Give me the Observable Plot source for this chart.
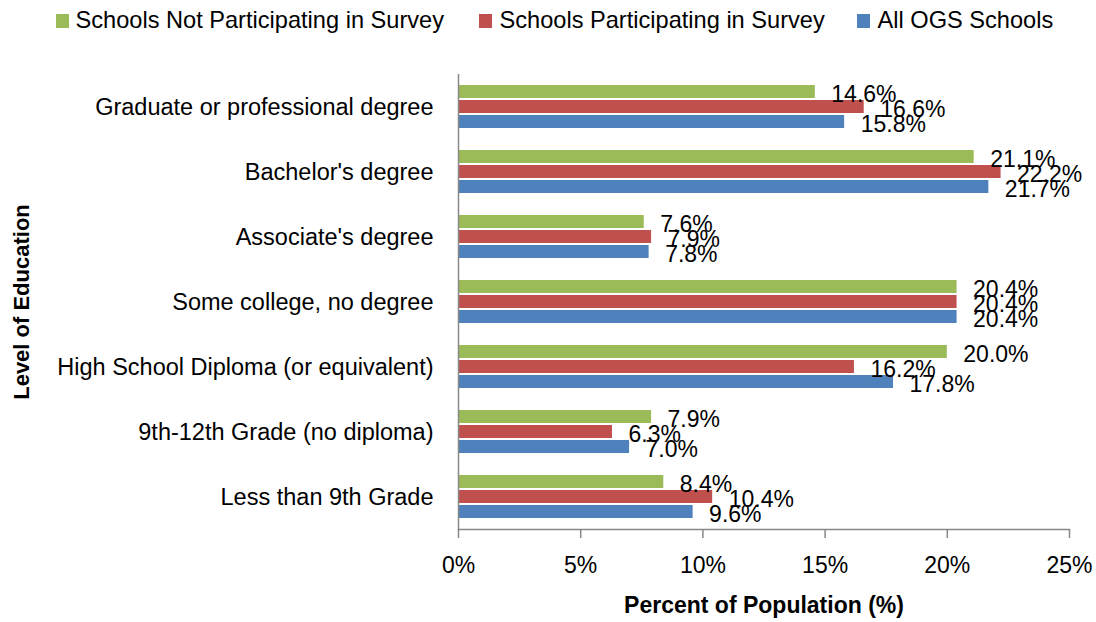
<!DOCTYPE html>
<html><head><meta charset="utf-8">
<script src="https://cdn.jsdelivr.net/npm/d3@7"></script>
<script src="https://cdn.jsdelivr.net/npm/@observablehq/plot@0.6"></script>
<style>
body{margin:0;background:#fff;font-family:"Liberation Sans",Arial,sans-serif;}
#legend{position:relative;height:43px;width:1096px;}
.sw{position:absolute;top:14px;width:13px;height:14px;}
.lt{position:absolute;top:9px;font-size:23.6px;line-height:1;color:#000;white-space:nowrap;}
</style></head><body>
<div id="legend"></div><div id="chart"></div>
<script>
const categories = ["Graduate or professional degree","Bachelor's degree","Associate's degree","Some college, no degree","High School Diploma (or equivalent)","9th-12th Grade (no diploma)","Less than 9th Grade"];
const seriesNames = ["Schools Not Participating in Survey","Schools Participating in Survey","All OGS Schools"];
const seriesColors = ["#9BBB59","#C0504D","#4F81BD"];
const notParticipating = [14.6,21.1,7.6,20.4,20.0,7.9,8.4];
const participating = [16.6,22.2,7.9,20.4,16.2,6.3,10.4];
const allSchools = [15.8,21.7,7.8,20.4,17.8,7.0,9.6];
const xTicks = [0,5,10,15,20,25];
const xTitle = "Percent of Population (%)";
const yTitle = "Level of Education";

// legend
const swLeft = [56, 479, 857], txLeft = [75.5, 499.5, 877.5];
const leg = document.getElementById("legend");
seriesNames.forEach((s, i) => {
  const sw = document.createElement("div");
  sw.className = "sw"; sw.style.left = swLeft[i] + "px"; sw.style.background = seriesColors[i];
  const t = document.createElement("div");
  t.className = "lt"; t.style.left = txLeft[i] + "px"; t.textContent = s;
  leg.appendChild(sw); leg.appendChild(t);
});

const rows = [];
[notParticipating, participating, allSchools].forEach((vals, s) =>
  vals.forEach((v, i) => rows.push({category: categories[i], series: seriesNames[s], value: v})));

const font = '"Liberation Sans", Arial, sans-serif';
const chart = Plot.plot({
  width: 1096, height: 579,
  marginTop: 30, marginBottom: 93, marginLeft: 458, marginRight: 27,
  style: {fontFamily: font, fontSize: "23px", color: "#000", background: "#fff", overflow: "visible"},
  x: {domain: [0, 25], axis: null},
  y: {domain: seriesNames, axis: null, paddingInner: 0.156, paddingOuter: 0.616},
  fy: {domain: categories, padding: 0, axis: null},
  color: {domain: seriesNames, range: seriesColors},
  marks: [
    Plot.barX(rows, {fy: "category", y: "series", x: "value", fill: "series"}),
    Plot.ruleX([0], {stroke: "#888", strokeWidth: 1.5}),
    Plot.frame({anchor: "bottom", facetAnchor: "bottom", stroke: "#888", strokeWidth: 1.5}),
    Plot.text(rows, {fy: "category", y: "series", x: "value", text: d => d.value.toFixed(1) + "%",
      textAnchor: "start", dx: 16, dy: 3, fontSize: 23, fill: "#000"}),
    Plot.axisFy({anchor: "left", tickSize: 0, tickPadding: 25, fontSize: 23.5, fill: "#000", label: null}),
    Plot.axisFy({anchor: "left", ticks: [], tickSize: 0, label: yTitle, labelAnchor: "center", labelOffset: 445,
      labelArrow: "none", fontWeight: "bold", fontSize: 22, fill: "#000"}),
    Plot.axisX({ticks: xTicks, tickFormat: d => d + "%", tickSize: 9, tickPadding: 18, fontSize: 23,
      stroke: "#888", strokeWidth: 1.5, strokeOpacity: 1, fill: "#000", label: null}),
    Plot.axisX({ticks: [], tickSize: 0, label: xTitle, labelAnchor: "center", labelOffset: 83,
      labelArrow: "none", fontWeight: "bold", fontSize: 23, fill: "#000"})
  ]
});
document.getElementById("chart").appendChild(chart);
</script>
</body></html>
